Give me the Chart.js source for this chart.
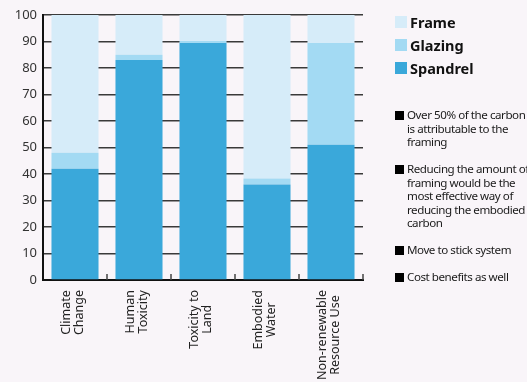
<!DOCTYPE html>
<html>
<head>
<meta charset="utf-8">
<script src="https://cdn.jsdelivr.net/npm/chart.js@4/dist/chart.umd.min.js"></script>
<style>
    html, body { margin: 0; padding: 0; background: #f9f5f9; }
    #wrap { position: relative; width: 527px; height: 382px; overflow: hidden; }
    #legend { position: absolute; left: 395px; top: 10px; font-family: "Noto Sans", sans-serif; }
    .leg-row { display: flex; align-items: center; height: 23px; font-weight: bold; font-size: 14.5px; color: #111; }
    .leg-box { width: 12px; height: 12px; margin-right: 3px; }
    #notes { position: absolute; left: 395px; top: 108px; width: 140px; font-family: "Noto Sans", sans-serif; font-size: 11.6px; line-height: 13.5px; color: #1a1a1a; letter-spacing: -0.45px; }
    .note { position: relative; padding-left: 12px; margin-bottom: 13.5px; white-space: nowrap; }
    .note::before { content: ""; position: absolute; left: 0; top: 3px; width: 9px; height: 9px; background: #000; }
</style>
</head>
<body>
<div id="wrap">
    <canvas id="chart" width="527" height="382"></canvas>
    <div id="legend"></div>
    <div id="notes"></div>
</div>
<script>
const categories = [
    ['Climate', 'Change'],
    ['Human', 'Toxicity'],
    ['Toxicity to', 'Land'],
    ['Embodied', 'Water'],
    ['Non-renewable', 'Resource Use']
];
const spandrel = [42, 83, 89.4, 36, 51];
const glazing = [6, 2, 0.8, 2.3, 38.4];
const frame = [52, 15, 9.8, 61.7, 10.6];
const yTicks = [0, 10, 20, 30, 40, 50, 60, 70, 80, 90, 100];

const notes = [
    'Over 50% of the carbon<br>is attributable to the<br>framing',
    'Reducing the amount of<br>framing would be the<br>most effective way of<br>reducing the embodied<br>carbon',
    'Move to stick system',
    'Cost benefits as well'
];

const colors = { Frame: '#d6ecf9', Glazing: '#a3daf3', Spandrel: '#3aa8da' };

// category labels drawn rotated, lines centred on each other
const rotatedLabels = {
    id: 'rotatedLabels',
    afterDraw(chart) {
        const ctx = chart.ctx;
        const xs = chart.scales.x;
        const area = chart.chartArea;
        const top = area.bottom + 10;
        ctx.save();
        ctx.font = '12.5px "Noto Sans"';
        ctx.fillStyle = '#222';
        ctx.textAlign = 'center';
        ctx.textBaseline = 'middle';
        categories.forEach((lines, i) => {
            const x = xs.getPixelForValue(i) - 2;
            const w = Math.max(...lines.map(l => ctx.measureText(l).width));
            const lh = 13;
            ctx.save();
            ctx.translate(x, top + w / 2);
            ctx.rotate(-Math.PI / 2);
            lines.forEach((l, j) => {
                ctx.fillText(l, 0, (j - (lines.length - 1) / 2) * lh);
            });
            ctx.restore();
        });
        // little upward ticks at the category boundaries
        ctx.strokeStyle = '#444';
        ctx.lineWidth = 1.5;
        const step = xs.getPixelForValue(1) - xs.getPixelForValue(0);
        for (let i = 0; i < categories.length; i++) {
            const bx = xs.getPixelForValue(i) + step / 2;
            ctx.beginPath();
            ctx.moveTo(bx, area.bottom);
            ctx.lineTo(bx, area.bottom - 6);
            ctx.stroke();
        }
        ctx.restore();
    }
};

new Chart(document.getElementById('chart'), {
    type: 'bar',
    data: {
        labels: categories,
        datasets: [
            { label: 'Spandrel', data: spandrel, backgroundColor: colors.Spandrel },
            { label: 'Glazing', data: glazing, backgroundColor: colors.Glazing },
            { label: 'Frame', data: frame, backgroundColor: colors.Frame }
        ]
    },
    options: {
        responsive: false,
        animation: false,
        layout: { padding: { top: 15, right: 164, bottom: 94, left: 0 } },
        datasets: { bar: { categoryPercentage: 1, barPercentage: 0.735 } },
        plugins: { legend: { display: false }, tooltip: { enabled: false } },
        scales: {
            x: {
                stacked: true,
                ticks: { display: false },
                grid: { display: false },
                border: { display: true, color: '#111', width: 2 }
            },
            y: {
                stacked: true,
                min: 0,
                max: 100,
                afterBuildTicks: s => { s.ticks = yTicks.map(v => ({ value: v })); },
                afterFit: s => { s.width = 43; },
                ticks: { padding: 6, color: '#333', font: { family: 'Noto Sans', size: 13 } },
                grid: { color: '#3a3a3a', lineWidth: 1.5, drawTicks: false },
                border: { display: true, color: '#111', width: 2 }
            }
        }
    },
    plugins: [rotatedLabels]
});

document.getElementById('legend').innerHTML = ['Frame', 'Glazing', 'Spandrel'].map(n =>
    `<div class="leg-row"><span class="leg-box" style="background:${colors[n]}"></span>${n}</div>`).join('');
document.getElementById('notes').innerHTML = notes.map(n => `<div class="note">${n}</div>`).join('');
</script>
</body>
</html>
